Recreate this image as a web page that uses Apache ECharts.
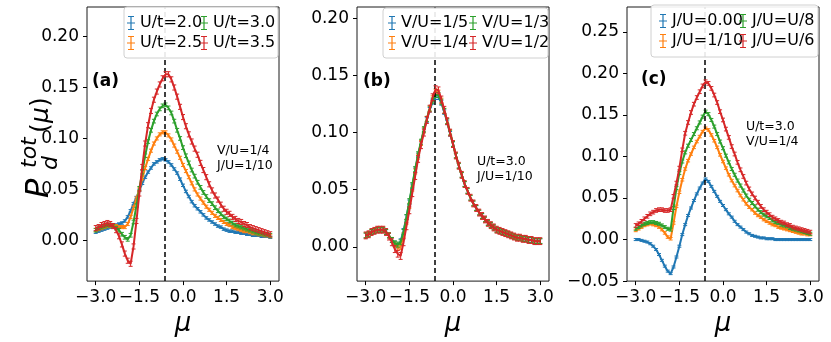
<!DOCTYPE html>
<html>
<head>
<meta charset="UTF-8">
<title>P_d^tot(mu)</title>
<script src="https://cdn.jsdelivr.net/npm/echarts@6/dist/echarts.min.js"></script>
<style>
  html, body { margin: 0; padding: 0; background: #fff; }
  #chart { width: 831px; height: 342px; }
</style>
</head>
<body>
<div id="chart"></div>
<script>
// chemical potential grid
var mu = [-3.0,-2.9,-2.8,-2.7,-2.6,-2.5,-2.4,-2.3,-2.2,-2.1,
          -2.0,-1.9,-1.8,-1.7,-1.6,-1.5,-1.4,-1.3,-1.2,-1.1,
          -1.0,-0.9,-0.8,-0.7,-0.6,-0.5,-0.4,-0.3,-0.2,-0.1,
           0.0, 0.1, 0.2, 0.3, 0.4, 0.5, 0.6, 0.7, 0.8, 0.9,
           1.0, 1.1, 1.2, 1.3, 1.4, 1.5, 1.6, 1.7, 1.8, 1.9,
           2.0, 2.1, 2.2, 2.3, 2.4, 2.5, 2.6, 2.7, 2.8, 2.9,
           3.0];

// (a) V/U=1/4, J/U=1/10
var aU20 = [0.008,0.009,0.010,0.011,0.012,0.013,0.014,0.015,0.016,0.017,
            0.019,0.023,0.029,0.036,0.042,0.049,0.056,0.062,0.067,0.071,
            0.075,0.077,0.079,0.080,0.079,0.077,0.074,0.070,0.066,0.060,
            0.054,0.048,0.043,0.038,0.034,0.031,0.028,0.025,0.022,0.020,
            0.018,0.016,0.014,0.013,0.011,0.010,0.009,0.009,0.008,0.008,
            0.007,0.007,0.006,0.006,0.005,0.005,0.005,0.004,0.004,0.004,
            0.003];
var aU25 = [0.010,0.011,0.012,0.013,0.014,0.014,0.014,0.014,0.013,0.013,
            0.013,0.016,0.023,0.032,0.041,0.050,0.061,0.071,0.080,0.088,
            0.095,0.100,0.104,0.106,0.106,0.103,0.099,0.093,0.087,0.081,
            0.074,0.068,0.062,0.056,0.050,0.045,0.041,0.037,0.033,0.030,
            0.027,0.024,0.022,0.020,0.018,0.016,0.015,0.013,0.012,0.011,
            0.010,0.009,0.009,0.008,0.007,0.007,0.006,0.006,0.005,0.005,
            0.004];
var aU30 = [0.010,0.012,0.013,0.014,0.015,0.015,0.014,0.012,0.010,0.006,
            0.003,0.001,0.005,0.018,0.034,0.051,0.067,0.083,0.097,0.108,
            0.117,0.124,0.129,0.132,0.133,0.130,0.125,0.117,0.108,0.100,
            0.091,0.083,0.076,0.069,0.063,0.057,0.052,0.047,0.043,0.039,
            0.036,0.032,0.029,0.026,0.023,0.021,0.019,0.017,0.015,0.014,
            0.013,0.012,0.011,0.010,0.009,0.008,0.007,0.007,0.006,0.006,
            0.005];
var aU35 = [0.012,0.013,0.015,0.016,0.017,0.016,0.014,0.010,0.004,-0.004,
            -0.013,-0.020,-0.023,-0.006,0.019,0.046,0.072,0.095,0.113,0.127,
            0.138,0.146,0.153,0.159,0.163,0.163,0.158,0.150,0.141,0.131,
            0.121,0.112,0.104,0.097,0.090,0.084,0.076,0.069,0.062,0.055,
            0.049,0.044,0.040,0.035,0.031,0.028,0.026,0.023,0.021,0.019,
            0.018,0.016,0.015,0.013,0.012,0.011,0.010,0.009,0.008,0.007,
            0.006];

// (b) U/t=3.0, J/U=1/10
var bV15 = [0.010,0.011,0.013,0.014,0.015,0.015,0.015,0.013,0.010,0.006,
            0.003,0.001,0.005,0.014,0.026,0.039,0.053,0.067,0.080,0.091,
            0.102,0.111,0.120,0.127,0.131,0.131,0.126,0.118,0.109,0.099,
            0.090,0.080,0.071,0.063,0.055,0.049,0.043,0.038,0.034,0.030,
            0.027,0.024,0.021,0.019,0.017,0.015,0.014,0.013,0.012,0.011,
            0.010,0.009,0.008,0.008,0.007,0.007,0.006,0.006,0.005,0.005,
            0.005];
var bV14 = [0.010,0.011,0.013,0.014,0.015,0.015,0.015,0.013,0.010,0.006,
            0.002,-0.001,0.000,0.010,0.022,0.036,0.051,0.066,0.079,0.091,
            0.102,0.112,0.121,0.130,0.136,0.135,0.128,0.119,0.110,0.100,
            0.090,0.080,0.071,0.063,0.055,0.049,0.043,0.038,0.034,0.030,
            0.027,0.024,0.021,0.019,0.017,0.015,0.014,0.013,0.012,0.011,
            0.010,0.009,0.008,0.008,0.007,0.007,0.006,0.006,0.005,0.005,
            0.005];
var bV13 = [0.010,0.011,0.013,0.014,0.015,0.015,0.015,0.013,0.010,0.006,
            0.003,0.002,0.004,0.013,0.026,0.040,0.054,0.068,0.081,0.092,
            0.103,0.112,0.121,0.128,0.133,0.133,0.127,0.119,0.110,0.100,
            0.090,0.080,0.071,0.063,0.055,0.049,0.043,0.038,0.034,0.030,
            0.027,0.024,0.021,0.019,0.017,0.015,0.014,0.013,0.012,0.011,
            0.010,0.009,0.008,0.008,0.007,0.007,0.006,0.006,0.005,0.005,
            0.005];
var bV12 = [0.010,0.011,0.013,0.014,0.015,0.015,0.015,0.013,0.009,0.004,
            -0.002,-0.006,-0.008,0.004,0.018,0.032,0.047,0.062,0.077,0.089,
            0.100,0.111,0.121,0.131,0.138,0.137,0.129,0.120,0.110,0.100,
            0.090,0.080,0.071,0.063,0.055,0.049,0.043,0.038,0.034,0.030,
            0.027,0.024,0.021,0.019,0.017,0.015,0.014,0.013,0.012,0.011,
            0.010,0.009,0.008,0.008,0.007,0.007,0.006,0.006,0.005,0.005,
            0.005];

// (c) U/t=3.0, V/U=1/4
var cJ0  = [0.000,0.000,-0.001,-0.002,-0.003,-0.005,-0.008,-0.012,-0.018,-0.025,
            -0.032,-0.038,-0.041,-0.033,-0.021,-0.008,0.006,0.018,0.029,0.038,
            0.047,0.055,0.062,0.068,0.073,0.070,0.064,0.058,0.052,0.046,
            0.041,0.036,0.031,0.027,0.022,0.018,0.015,0.012,0.009,0.007,
            0.005,0.004,0.003,0.002,0.002,0.001,0.001,0.001,0.000,0.000,
            0.000,0.000,0.000,0.000,0.000,0.000,0.000,0.000,0.000,0.000,
            0.000];
var cJ10 = [0.011,0.013,0.015,0.017,0.018,0.019,0.018,0.017,0.015,0.012,
            0.008,0.003,0.001,0.020,0.040,0.057,0.072,0.085,0.095,0.103,
            0.111,0.118,0.124,0.130,0.134,0.132,0.126,0.119,0.111,0.102,
            0.094,0.086,0.078,0.071,0.065,0.059,0.053,0.048,0.043,0.039,
            0.036,0.032,0.029,0.027,0.024,0.022,0.020,0.018,0.017,0.015,
            0.014,0.013,0.012,0.011,0.010,0.009,0.008,0.007,0.007,0.006,
            0.006];
var cJ8  = [0.013,0.015,0.017,0.019,0.020,0.021,0.021,0.020,0.019,0.017,
            0.015,0.013,0.012,0.038,0.062,0.080,0.094,0.105,0.113,0.120,
            0.127,0.134,0.141,0.148,0.154,0.151,0.144,0.136,0.127,0.118,
            0.110,0.101,0.093,0.085,0.078,0.071,0.065,0.059,0.053,0.048,
            0.044,0.040,0.036,0.033,0.030,0.028,0.026,0.023,0.021,0.020,
            0.018,0.017,0.016,0.014,0.013,0.012,0.011,0.010,0.009,0.008,
            0.007];
var cJ6  = [0.017,0.019,0.022,0.025,0.028,0.031,0.033,0.035,0.036,0.036,
            0.035,0.035,0.036,0.052,0.068,0.086,0.108,0.128,0.141,0.153,
            0.163,0.171,0.178,0.185,0.190,0.188,0.182,0.174,0.165,0.154,
            0.144,0.133,0.123,0.112,0.103,0.093,0.084,0.076,0.068,0.061,
            0.055,0.050,0.045,0.040,0.036,0.033,0.030,0.027,0.025,0.023,
            0.021,0.020,0.018,0.017,0.015,0.014,0.013,0.012,0.011,0.010,
            0.009];

// typical half-length of the error bars per curve
var errA = [0.0012, 0.0015, 0.0018, 0.0025];
var errB = [0.0020, 0.0022, 0.0022, 0.0030];
var errC = [0.0012, 0.0015, 0.0018, 0.0022];

var xTicks = [-3.0, -1.5, 0.0, 1.5, 3.0];
var yTicksAB = [0.00, 0.05, 0.10, 0.15, 0.20];
var yTicksC = [-0.05, 0.00, 0.05, 0.10, 0.15, 0.20, 0.25];
var vline = -0.62;

var colors = ['#1f77b4', '#ff7f0e', '#2ca02c', '#d62728'];
var FONT = '"DejaVu Sans", sans-serif';
var ebIcon = 'path://M3.4,0H4.6V14H3.4Z M1,0H7V1H1Z M1,13H7V14H1Z M0,6.4H8V7.6H0Z';

var panels = [
  { names: ['U/t=2.0', 'U/t=2.5', 'U/t=3.0', 'U/t=3.5'], data: [aU20, aU25, aU30, aU35], err: errA,
    yMin: -0.04, yMax: 0.229, yTicks: yTicksAB, left: 87,
    leg: [127, 200], legTop: 14, frame: [124, 7, 154, 51],
    tag: '(a)', tagPos: [92, 82], note: 'V/U=1/4\nJ/U=1/10', notePos: [217, 158] },
  { names: ['V/U=1/5', 'V/U=1/4', 'V/U=1/3', 'V/U=1/2'], data: [bV15, bV14, bV13, bV12], err: errB,
    yMin: -0.03, yMax: 0.21, yTicks: yTicksAB, left: 357,
    leg: [388, 469], legTop: 14, frame: [383, 8, 165, 50],
    tag: '(b)', tagPos: [363, 82], note: 'U/t=3.0\nJ/U=1/10', notePos: [477, 169] },
  { names: ['J/U=0.00', 'J/U=1/10', 'J/U=U/8', 'J/U=U/6'], data: [cJ0, cJ10, cJ8, cJ6], err: errC,
    yMin: -0.05, yMax: 0.28, yTicks: yTicksC, left: 627,
    leg: [659, 739], legTop: 12, frame: [651, 5, 167, 52],
    tag: '(c)', tagPos: [641, 80], note: 'U/t=3.0\nV/U=1/4', notePos: [746, 134] }
];

function minus(s) { return s.replace('-', '\u2212'); }

function errRender(color, err) {
  return function (params, api) {
    var x = api.value(0), y = api.value(1);
    var hi = api.coord([x, y + err]);
    var lo = api.coord([x, y - err]);
    var cw = 2;
    var st = { stroke: color, lineWidth: 1 };
    return {
      type: 'group',
      children: [
        { type: 'line', shape: { x1: hi[0], y1: hi[1], x2: lo[0], y2: lo[1] }, style: st },
        { type: 'line', shape: { x1: hi[0] - cw, y1: hi[1], x2: hi[0] + cw, y2: hi[1] }, style: st },
        { type: 'line', shape: { x1: lo[0] - cw, y1: lo[1], x2: lo[0] + cw, y2: lo[1] }, style: st }
      ]
    };
  };
}

var grids = [], xAxes = [], yAxes = [], series = [], legends = [], graphics = [];

panels.forEach(function (p, k) {
  grids.push({ left: p.left, top: 7, width: 192, height: 278, show: true,
               borderColor: '#1a1a1a', borderWidth: 1, backgroundColor: 'transparent' });
  xAxes.push({
    type: 'value', gridIndex: k, min: -3.3, max: 3.3,
    name: '\u03bc', nameLocation: 'middle', nameGap: 19,
    nameTextStyle: { fontFamily: FONT, fontStyle: 'italic', fontSize: 26, color: '#000' },
    axisLine: { show: false, onZero: false }, splitLine: { show: false },
    axisTick: { show: true, length: 4, customValues: xTicks, lineStyle: { color: '#000' } },
    axisLabel: { customValues: xTicks, margin: 8, fontFamily: FONT, fontSize: 17, color: '#000',
                 formatter: function (v) { return minus(v.toFixed(1)); } }
  });
  yAxes.push({
    type: 'value', gridIndex: k, min: p.yMin, max: p.yMax,
    axisLine: { show: false, onZero: false }, splitLine: { show: false },
    axisTick: { show: true, length: 4, customValues: p.yTicks, lineStyle: { color: '#000' } },
    axisLabel: { customValues: p.yTicks, margin: 8, fontFamily: FONT, fontSize: 17, color: '#000',
                 formatter: function (v) { return minus(v.toFixed(2)); } }
  });

  p.names.forEach(function (nm, j) {
    var pts = mu.map(function (m, i) { return [m, p.data[j][i]]; });
    var line = {
      type: 'line', name: nm, xAxisIndex: k, yAxisIndex: k, data: pts,
      showSymbol: false, symbol: 'none', color: colors[j],
      lineStyle: { width: 2, color: colors[j] }, z: 2 + j
    };
    if (j === 3) {
      line.markLine = {
        silent: true, symbol: ['none', 'none'], label: { show: false },
        lineStyle: { color: '#000', type: [5, 3], width: 1.5 },
        data: [{ xAxis: vline }]
      };
    }
    series.push(line);
    series.push({
      type: 'custom', name: nm, xAxisIndex: k, yAxisIndex: k, data: pts,
      color: colors[j], clip: true, z: 2 + j,
      encode: { x: 0, y: 1 },
      renderItem: errRender(colors[j], p.err[j])
    });
  });

  [0, 1].forEach(function (c) {
    legends.push({
      left: p.leg[c], top: p.legTop, orient: 'vertical', padding: 0, itemGap: 2,
      itemWidth: 8, itemHeight: 14, selectedMode: false, z: 110,
      textStyle: { fontFamily: FONT, fontSize: 16, color: '#000', lineHeight: 18 },
      data: [{ name: p.names[2 * c], icon: ebIcon }, { name: p.names[2 * c + 1], icon: ebIcon }]
    });
  });

  graphics.push({
    type: 'rect', z: 100, shape: { x: p.frame[0], y: p.frame[1], width: p.frame[2], height: p.frame[3], r: 3 },
    style: { fill: 'rgba(255,255,255,0.9)', stroke: '#d0d0d0', lineWidth: 1 }
  });
  graphics.push({
    type: 'text', z: 100, x: p.tagPos[0], y: p.tagPos[1],
    style: { text: p.tag, font: 'bold 17px ' + FONT, fill: '#000', verticalAlign: 'middle' }
  });
  graphics.push({
    type: 'text', z: 100, x: p.notePos[0], y: p.notePos[1],
    style: { text: p.note, font: '12.5px ' + FONT, fill: '#000', verticalAlign: 'middle', lineHeight: 15 }
  });
});

// y-axis title P_d^tot(mu), drawn rotated
graphics.push({
  type: 'group', x: 40, y: 198, rotation: Math.PI / 2, z: 100,
  children: [
    { type: 'text', x: 0, y: 0, style: { text: 'P', font: 'italic 32px ' + FONT, fill: '#000', verticalAlign: 'middle' } },
    { type: 'text', x: 30, y: -10, style: { text: 'tot', font: 'italic 22px ' + FONT, fill: '#000', verticalAlign: 'middle' } },
    { type: 'text', x: 28, y: 11, style: { text: 'd', font: 'italic 22px ' + FONT, fill: '#000', verticalAlign: 'middle' } },
    { type: 'text', x: 65, y: 1, style: { text: '(', font: '25px ' + FONT, fill: '#000', verticalAlign: 'middle' } },
    { type: 'text', x: 75, y: 1, style: { text: '\u03bc', font: 'italic 25px ' + FONT, fill: '#000', verticalAlign: 'middle' } },
    { type: 'text', x: 91, y: 1, style: { text: ')', font: '25px ' + FONT, fill: '#000', verticalAlign: 'middle' } }
  ]
});

var chart = echarts.init(document.getElementById('chart'), null, { renderer: 'canvas' });
chart.setOption({
  animation: false,
  backgroundColor: '#fff',
  grid: grids,
  xAxis: xAxes,
  yAxis: yAxes,
  legend: legends,
  series: series,
  graphic: graphics
});
</script>
</body>
</html>
